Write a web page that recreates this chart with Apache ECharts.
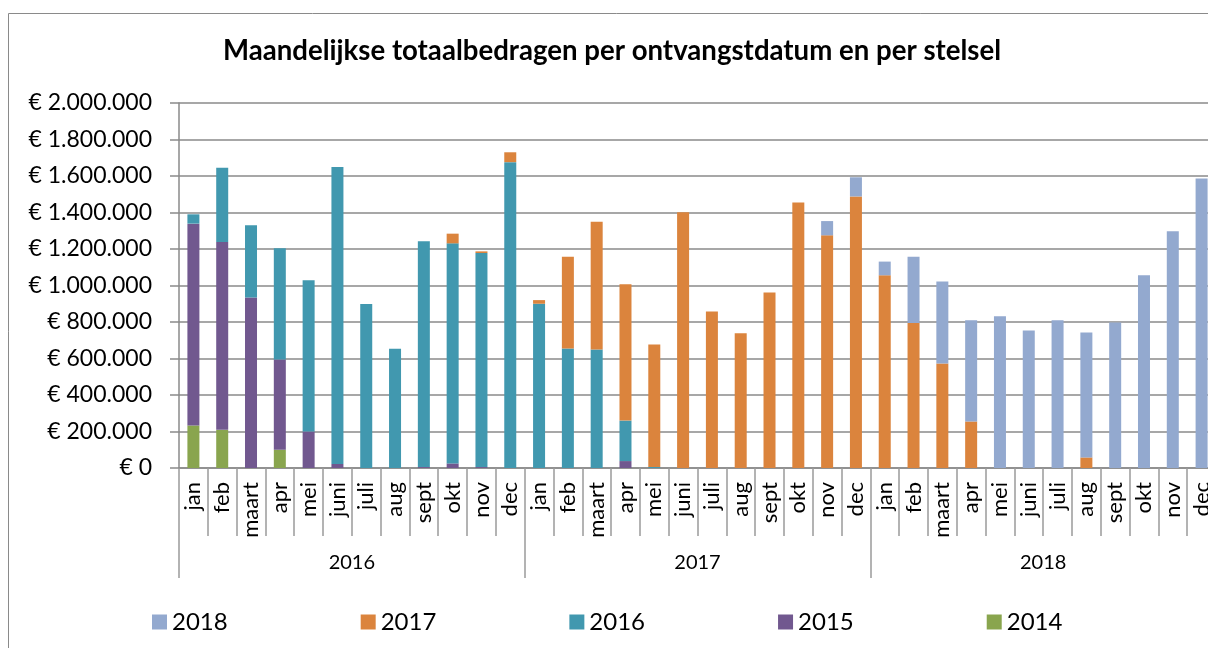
<!DOCTYPE html>
<html>
<head>
<meta charset="utf-8">
<title>Maandelijkse totaalbedragen</title>
<script src="https://cdn.jsdelivr.net/npm/echarts@6/dist/echarts.min.js"></script>
<style>
  html, body { margin: 0; padding: 0; background: #fff; overflow: hidden; }
  /* the plot runs a few pixels past the right edge, like the original */
  #chart { width: 1224px; height: 648px; }
</style>
</head>
<body>
<div id="chart"></div>
<script>
// maanden per jaar (2016 - 2018)
var monthNames = ['jan', 'feb', 'maart', 'apr', 'mei', 'juni', 'juli', 'aug', 'sept', 'okt', 'nov', 'dec'];
var years = ['2016', '2017', '2018'];
var categories = monthNames.concat(monthNames, monthNames);

// bedragen per stelsel (euro)
var s2014 = [233000, 209000, 0, 100000, 0, 0, 0, 0, 0, 0, 0, 0,
             0, 0, 0, 0, 0, 0, 0, 0, 0, 0, 0, 0,
             0, 0, 0, 0, 0, 0, 0, 0, 0, 0, 0, 0];
var s2015 = [1106000, 1030000, 934000, 495000, 200000, 22000, 0, 0, 5000, 25000, 5000, 0,
             0, 0, 0, 38000, 0, 0, 0, 0, 0, 0, 0, 0,
             0, 0, 0, 0, 0, 0, 0, 0, 0, 0, 0, 0];
var s2016 = [51000, 406000, 396000, 609000, 829000, 1628000, 898000, 654000, 1237000, 1206000, 1173000, 1676000,
             900000, 655000, 650000, 222000, 5000, 0, 0, 0, 0, 0, 0, 0,
             0, 0, 0, 0, 0, 0, 0, 0, 0, 0, 0, 0];
var s2017 = [0, 0, 0, 0, 0, 0, 0, 0, 0, 53000, 9000, 54000,
             20000, 503000, 699000, 747000, 672000, 1402000, 858000, 739000, 961000, 1455000, 1275000, 1488000,
             1056000, 794000, 572000, 255000, 0, 0, 0, 58000, 0, 0, 0, 0];
var s2018 = [0, 0, 0, 0, 0, 0, 0, 0, 0, 0, 0, 0,
             0, 0, 0, 0, 0, 0, 0, 0, 0, 0, 78000, 105000,
             75000, 363000, 450000, 554000, 832000, 754000, 810000, 685000, 797000, 1056000, 1297000, 1586000];

var colors = {
  '2014': '#89a54e',
  '2015': '#71588f',
  '2016': '#4198af',
  '2017': '#db843d',
  '2018': '#93a9cf'
};

var font = 'Lato, "Liberation Sans", sans-serif';
var gray = '#8a8a8a';

function euro(v) {
  var s = String(Math.round(v)).replace(/\B(?=(\d{3})+(?!\d))/g, '.');
  return '€ ' + s;
}

function bar(name, data) {
  return {
    name: name,
    type: 'bar',
    stack: 'totaal',
    barWidth: 12,
    data: data,
    itemStyle: { color: colors[name] }
  };
}

var chart = echarts.init(document.getElementById('chart'));
chart.setOption({
  animation: false,
  textStyle: { fontFamily: font, color: '#000' },
  title: {
    text: 'Maandelijkse totaalbedragen per ontvangstdatum en per stelsel',
    left: 'center',
    top: 37,
    padding: [0, 0, 0, 2],
    textStyle: { fontFamily: font, fontSize: 27.6, fontWeight: 'bold', color: '#000' }
  },
  graphic: [{
    type: 'rect',
    shape: { x: 8.5, y: 13.5, width: 1400, height: 800 },
    style: { fill: null, stroke: gray, lineWidth: 1 },
    silent: true
  }],
  legend: {
    data: ['2018', '2017', '2016', '2015', '2014'],
    left: 147,
    top: 605,
    itemWidth: 15,
    itemHeight: 15,
    itemGap: 133,
    icon: 'rect',
    textStyle: { fontFamily: font, fontSize: 24, color: '#000' }
  },
  grid: { left: 179, top: 103, width: 1037, height: 365 },
  xAxis: [{
    type: 'category',
    data: categories,
    position: 'bottom',
    axisLine: { show: true, lineStyle: { color: gray, width: 1.5 } },
    axisTick: { show: true, interval: 0, length: 68, lineStyle: { color: '#9a9a9a', width: 1.5 } },
    axisLabel: { interval: 0, rotate: 90, margin: 14, fontSize: 22, color: '#000', fontFamily: font }
  }, {
    type: 'category',
    data: years,
    position: 'bottom',
    offset: 110,
    axisLine: { show: false },
    axisTick: { show: true, inside: true, interval: 0, length: 110, lineStyle: { color: '#9a9a9a', width: 1.5 } },
    axisLabel: { inside: true, margin: 5, fontSize: 20, color: '#000', fontFamily: font }
  }],
  yAxis: {
    type: 'value',
    min: 0,
    max: 2000000,
    interval: 200000,
    axisLine: { show: true, lineStyle: { color: gray, width: 1.5 } },
    axisTick: { show: true, length: 9, lineStyle: { color: gray, width: 1.5 } },
    axisLabel: { margin: 27, fontSize: 23, color: '#000', fontFamily: font, formatter: euro },
    splitLine: { lineStyle: { color: gray, width: 1.5 } }
  },
  series: [
    bar('2014', s2014),
    bar('2015', s2015),
    bar('2016', s2016),
    bar('2017', s2017),
    bar('2018', s2018)
  ]
});
</script>
</body>
</html>
